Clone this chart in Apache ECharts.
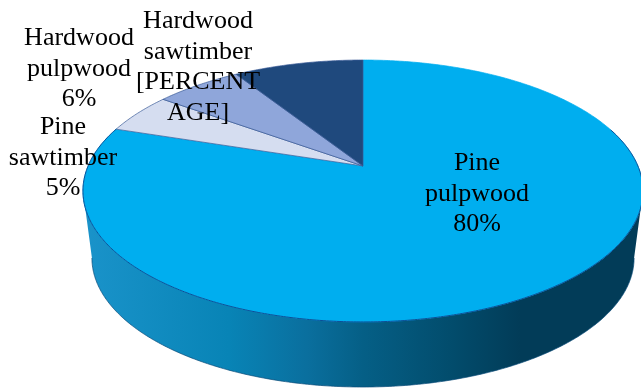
<!DOCTYPE html>
<html>
<head>
<meta charset="utf-8">
<style>html,body{margin:0;padding:0;background:#fff}#c{width:641px;height:389px}</style>
<script src="https://cdn.jsdelivr.net/npm/echarts@6/dist/echarts.min.js"></script>
</head>
<body>
<div id="c"></div>
<script>
// Timber product shares, clockwise from twelve o'clock
const categories = ['Pine pulpwood', 'Pine sawtimber', 'Hardwood pulpwood', 'Hardwood sawtimber'];
const shares = [80, 5, 6, 9];
const labelTexts = ['Pine\npulpwood\n80%', 'Pine\nsawtimber\n5%', 'Hardwood\npulpwood\n6%', 'Hardwood\nsawtimber\n[PERCENT\nAGE]'];
const topColors = ['#00aeef', '#d5ddf0', '#8fa6da', '#1f497d'];
const labelAnchors = [[477, 194], [63, 158], [79, 69], [198, 67]];

// Tilted-disc projection: the hub sits above the centre of the drawn ellipse
const hub = { x: 363, y: 166 };
const view = { a: 274.9, b: 126.2, k: 0.1908, depth: 67.4, shrinkX: 0.968, shrinkY: 0.985 };
const total = shares.reduce((s, v) => s + v, 0);

function project(theta, drop) {
  const den = 1 + view.k * Math.cos(theta);
  const sx = drop ? view.shrinkX : 1;
  const sy = drop ? view.shrinkY : 1;
  return [
    hub.x + sx * view.a * Math.sin(theta) / den,
    hub.y - sy * view.b * Math.cos(theta) / den + (drop ? view.depth : 0)
  ];
}
function arc(from, to, drop) {
  const pts = [];
  const n = Math.max(2, Math.ceil(Math.abs(to - from) / 0.01));
  for (let i = 0; i <= n; i++) pts.push(project(from + (to - from) * i / n, drop));
  return pts;
}

// The rim turns away from the viewer where cos(theta) = -k
const frontFrom = Math.acos(-view.k);
const frontTo = 2 * Math.PI - frontFrom;
// The dark top edge starts a little before the rim turns to the front
const edgeFrom = frontFrom - 0.5;

const wallGradient = {
  type: 'linear', x: 0, y: 0, x2: 1, y2: 0,
  colorStops: [
    { offset: 0, color: '#1a93ca' },
    { offset: 0.26, color: '#0884b6' },
    { offset: 0.4, color: '#0a6f9e' },
    { offset: 0.5, color: '#055f86' },
    { offset: 0.66, color: '#024c6c' },
    { offset: 0.78, color: '#023c58' },
    { offset: 1, color: '#023c58' }
  ]
};

function renderSlice(params, api) {
  const i = params.dataIndex;
  let before = 0;
  for (let j = 0; j < i; j++) before += shares[j];
  const start = before / total * 2 * Math.PI;
  const end = (before + api.value(1)) / total * 2 * Math.PI;
  const children = [];

  // Rim wall for the part of this slice that faces the viewer
  const wf = Math.max(start, frontFrom), wt = Math.min(end, frontTo);
  if (wt > wf) {
    children.push({
      type: 'polygon', z2: 1,
      shape: { points: arc(wf, wt, false).concat(arc(wt, wf, true)) },
      style: { fill: wallGradient, stroke: null }
    });
    children.push({
      type: 'polyline', z2: 1,
      shape: { points: arc(wf, wt, true) },
      style: { fill: null, stroke: '#0a4a78', lineWidth: 0.7 }
    });
  }
  // Top face, with a hairline in its own colour so the back rim stays soft
  children.push({
    type: 'polygon', z2: i === 0 ? 2 : 3,
    shape: { points: [[hub.x, hub.y]].concat(arc(start, end, false)) },
    style: { fill: topColors[i], stroke: i === 0 ? topColors[0] : '#3a5a96', lineWidth: 0.7, lineJoin: 'round' }
  });
  // Darker edge along the front of the top face
  const ef = Math.max(start, edgeFrom);
  if (end > ef && i === 0) {
    children.push({
      type: 'polyline', z2: 4,
      shape: { points: arc(ef, end, false) },
      style: { fill: null, stroke: '#0c4f96', lineWidth: 1 }
    });
  }
  // Data label, allowed to run over neighbouring slices
  children.push({
    type: 'text', z2: 5,
    x: labelAnchors[i][0], y: labelAnchors[i][1],
    style: {
      text: labelTexts[i],
      fontFamily: '"Liberation Serif", serif', fontSize: 26, lineHeight: 30.5,
      fill: '#000', align: 'center', verticalAlign: 'middle'
    }
  });
  return { type: 'group', children };
}

const chart = echarts.init(document.getElementById('c'), null, { renderer: 'canvas' });
chart.setOption({
  animation: false,
  backgroundColor: '#ffffff',
  series: [{
    type: 'custom',
    coordinateSystem: 'none',
    renderItem: renderSlice,
    clip: false,
    data: categories.map((name, i) => ({ name, value: [i, shares[i]] }))
  }]
});
</script>
</body>
</html>
